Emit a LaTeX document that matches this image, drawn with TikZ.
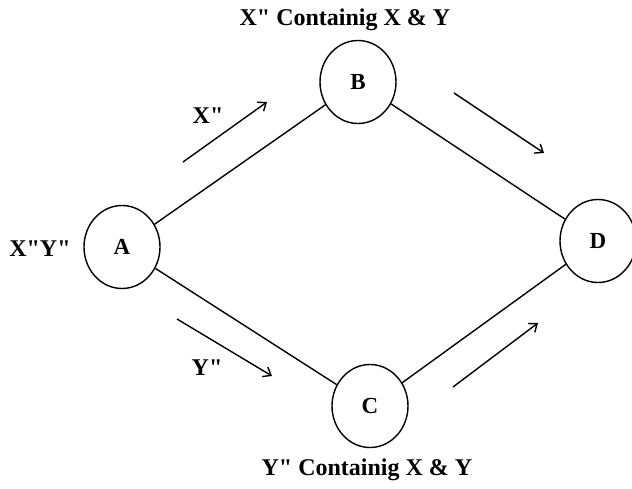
\documentclass[tikz,border=0pt]{standalone}
\usepackage{fontspec}
\setmainfont{Liberation Serif}
\usetikzlibrary{shapes.geometric,arrows.meta}
\newcommand{\qq}{\textquotedbl}
\tikzset{
  stn/.style={draw, ellipse, line width=1.4pt, minimum width=76pt, minimum height=83pt, inner sep=0pt, font=\fontsize{23}{27}\selectfont\bfseries},
  lbl/.style={font=\fontsize{24}{28}\selectfont\bfseries, inner sep=0pt},
  link/.style={line width=1.4pt},
  flow/.style={line width=1.4pt, -{Straight Barb[length=7pt,width=11pt,line width=1.4pt]}}
}
\begin{document}
\begin{tikzpicture}[x=1pt,y=-1pt]
\useasboundingbox (0,0) rectangle (632,488);
\node[stn] (A) at (122,247) {A};
\node[stn] (B) at (358,82) {B};
\node[stn] (C) at (370,406) {C};
\node[stn] (D) at (598,241) {D};
\draw[link] (A) -- (B);
\draw[link] (A) -- (C);
\draw[link] (B) -- (D);
\draw[link] (C) -- (D);
\node[lbl] (tB) at (345,20) {X\qq\ Containig X \& Y};
\node[lbl] (tC) at (367,470) {Y\qq\ Containig X \& Y};
\node[lbl] (tA) at (40,249) {X\qq Y\qq};
\node[lbl] (tX) at (208,116) {X\qq};
\node[lbl] (tY) at (207,368) {Y\qq};
\coordinate (a1s) at (183,162); \coordinate (a1e) at (267,102);
\coordinate (a2s) at (177,319); \coordinate (a2e) at (272,376);
\coordinate (a3s) at (454,93);  \coordinate (a3e) at (544,153);
\coordinate (a4s) at (453,387); \coordinate (a4e) at (538,323);
\draw[flow] (a1s) -- (a1e);
\draw[flow] (a2s) -- (a2e);
\draw[flow] (a3s) -- (a3e);
\draw[flow] (a4s) -- (a4e);
\end{tikzpicture}
\end{document}
